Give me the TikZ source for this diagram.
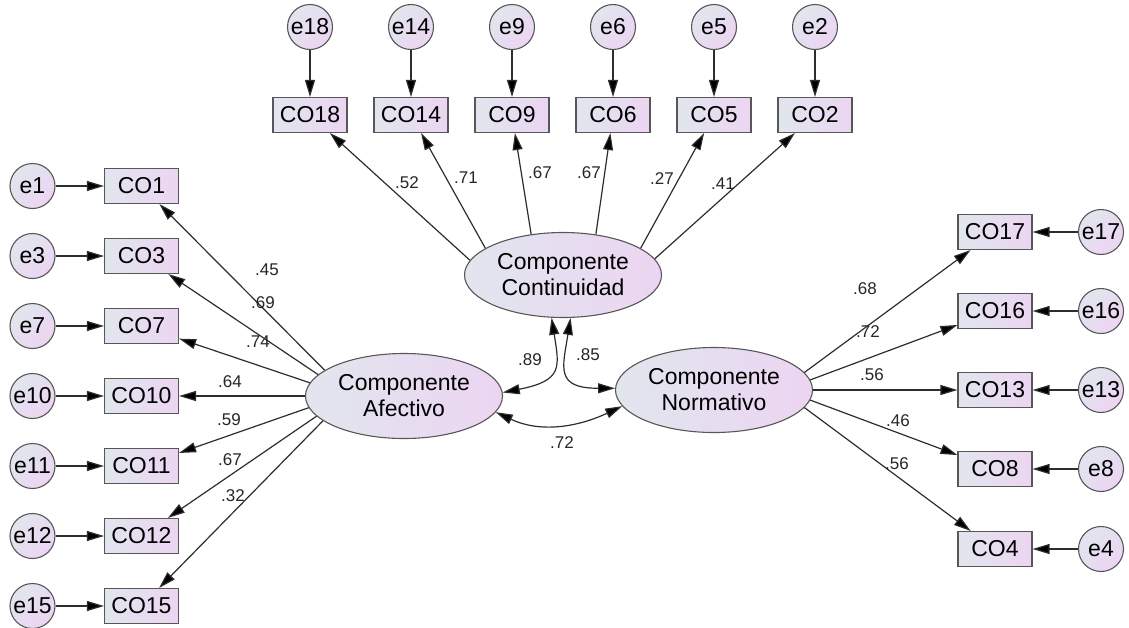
\documentclass[tikz,border=0pt]{standalone}
\usepackage{fontspec}
\setmainfont{Liberation Sans}
\usetikzlibrary{shapes.geometric, arrows.meta}
\definecolor{shadeA}{RGB}{225,230,238}
\definecolor{shadeB}{RGB}{236,213,242}
\definecolor{edge}{RGB}{45,45,45}
\tikzset{
  obs/.style={draw=edge!80, line width=1.1pt, left color=shadeA, right color=shadeB,
    minimum width=74pt, minimum height=35pt, inner sep=0pt, font=\fontsize{23}{23}\selectfont},
  err/.style={circle, draw=edge!80, line width=1.1pt, top color=shadeA, bottom color=shadeB,
    shading angle=45, minimum size=45pt, inner sep=0pt, font=\fontsize{23}{23}\selectfont},
  lat/.style={ellipse, draw=edge!80, line width=1.1pt, left color=shadeA, right color=shadeB,
    minimum width=197pt, minimum height=85pt, inner sep=0pt, align=center,
    font=\fontsize{23}{26}\selectfont},
  path/.style={draw=edge, line width=1.2pt, -{Triangle[length=17pt, width=10pt, fill=black]}},
  cov/.style={draw=edge, line width=1.2pt, {Triangle[length=17pt, width=10pt, fill=black]}-{Triangle[length=17pt, width=10pt, fill=black]}},
  wt/.style={inner sep=0pt, text=black!85, font=\fontsize{17}{17}\selectfont}
}
\begin{document}
\begin{tikzpicture}[x=1pt, y=-1pt]
  \useasboundingbox (0,0) rectangle (1129,627);
  \node[lat] (cont) at (563,275) {Componente\\Continuidad};
  \node[lat] (afe) at (404,396) {Componente\\Afectivo};
  \node[lat] (nor) at (714,390) {Componente\\Normativo};
  \foreach \n/\x/\a/\w/\lx/\ly in {18/310/171/.52/407/183, 14/411/161/.71/466/178, 9/512/128/.67/540/173,
      6/613/51/.67/589/173, 5/714/19/.27/662/179, 2/815/10/.41/723/184} {
    \node[obs] (co\n) at (\x,115) {CO\n};
    \node[err] (e\n) at (\x,27) {e\n};
    \draw[path] (e\n) -- (co\n);
    \draw[path] (cont.\a) -- (co\n);
    \node[wt] (l\n) at (\lx,\ly) {\w};
  }
  \foreach \n/\y/\a/\w/\lx/\ly in {1/186/162/.45/267/270, 3/256/166/.69/263/303, 7/326/172/.74/258/342,
      10/396/180/.64/230/382, 11/466/187/.59/229/420, 12/536/193/.67/230/460, 15/606/197/.32/233/496} {
    \node[obs] (co\n) at (141.5,\y) {CO\n};
    \node[err] (e\n) at (32.5,\y) {e\n};
    \draw[path] (e\n) -- (co\n);
    \draw[path] (afe.\a) -- (co\n);
    \node[wt] (l\n) at (\lx,\ly) {\w};
  }
  \foreach \n/\y/\a/\w/\lx/\ly in {17/232/11/.68/865/289, 16/311/6/.72/868/332, 13/390/0/.56/872/375,
      8/469/354/.46/898/421, 4/549/349/.56/897/464} {
    \node[obs] (co\n) at (995,\y) {CO\n};
    \node[err] (e\n) at (1101,\y) {e\n};
    \draw[path] (e\n) -- (co\n);
    \draw[path] (nor.\a) -- (co\n);
    \node[wt] (l\n) at (\lx,\ly) {\w};
  }
  \draw[cov] (cont.255) .. controls +(8,50) and +(60,-12) .. (afe.2);
  \draw[cov] (cont.280) .. controls +(-8,50) and +(-60,0) .. (nor.179);
  \draw[cov] (afe.350) to[out=-25, in=-155] (nor.190);
  \node[wt] (lca) at (530,360) {.89};
  \node[wt] (lcn) at (588,355) {.85};
  \node[wt] (lan) at (562,443) {.72};
\end{tikzpicture}
\end{document}
